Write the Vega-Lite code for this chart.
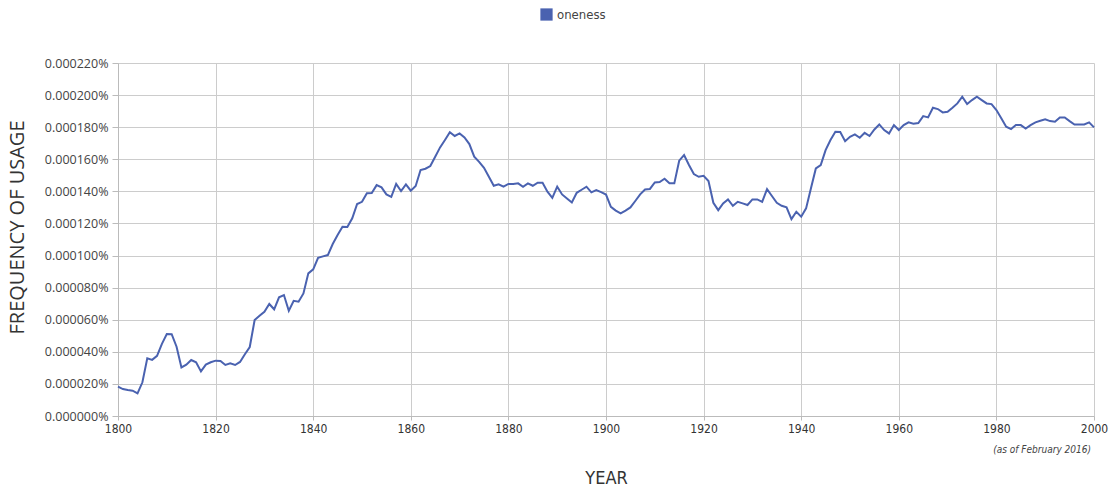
{
  "$schema": "https://vega.github.io/schema/vega-lite/v6.json",
  "width": 976,
  "height": 353,
  "autosize": {"type": "none"},
  "padding": {"left": 118, "top": 63, "right": 22, "bottom": 73},
  "background": "white",
  "config": {
    "view": {"stroke": null},
    "font": "Open Sans"
  },
  "data": {
    "values": [
      {"year": 1800, "freq": 0.0000183, "word": "oneness"},
      {"year": 1801, "freq": 0.0000168, "word": "oneness"},
      {"year": 1802, "freq": 0.0000162, "word": "oneness"},
      {"year": 1803, "freq": 0.0000158, "word": "oneness"},
      {"year": 1804, "freq": 0.0000141, "word": "oneness"},
      {"year": 1805, "freq": 0.0000210, "word": "oneness"},
      {"year": 1806, "freq": 0.0000360, "word": "oneness"},
      {"year": 1807, "freq": 0.0000350, "word": "oneness"},
      {"year": 1808, "freq": 0.0000375, "word": "oneness"},
      {"year": 1809, "freq": 0.0000450, "word": "oneness"},
      {"year": 1810, "freq": 0.0000511, "word": "oneness"},
      {"year": 1811, "freq": 0.0000510, "word": "oneness"},
      {"year": 1812, "freq": 0.0000432, "word": "oneness"},
      {"year": 1813, "freq": 0.0000303, "word": "oneness"},
      {"year": 1814, "freq": 0.0000320, "word": "oneness"},
      {"year": 1815, "freq": 0.0000349, "word": "oneness"},
      {"year": 1816, "freq": 0.0000335, "word": "oneness"},
      {"year": 1817, "freq": 0.0000278, "word": "oneness"},
      {"year": 1818, "freq": 0.0000320, "word": "oneness"},
      {"year": 1819, "freq": 0.0000335, "word": "oneness"},
      {"year": 1820, "freq": 0.0000345, "word": "oneness"},
      {"year": 1821, "freq": 0.0000343, "word": "oneness"},
      {"year": 1822, "freq": 0.0000318, "word": "oneness"},
      {"year": 1823, "freq": 0.0000328, "word": "oneness"},
      {"year": 1824, "freq": 0.0000318, "word": "oneness"},
      {"year": 1825, "freq": 0.0000337, "word": "oneness"},
      {"year": 1826, "freq": 0.0000385, "word": "oneness"},
      {"year": 1827, "freq": 0.0000430, "word": "oneness"},
      {"year": 1828, "freq": 0.0000598, "word": "oneness"},
      {"year": 1829, "freq": 0.0000625, "word": "oneness"},
      {"year": 1830, "freq": 0.0000650, "word": "oneness"},
      {"year": 1831, "freq": 0.0000698, "word": "oneness"},
      {"year": 1832, "freq": 0.0000665, "word": "oneness"},
      {"year": 1833, "freq": 0.0000740, "word": "oneness"},
      {"year": 1834, "freq": 0.0000754, "word": "oneness"},
      {"year": 1835, "freq": 0.0000656, "word": "oneness"},
      {"year": 1836, "freq": 0.0000718, "word": "oneness"},
      {"year": 1837, "freq": 0.0000712, "word": "oneness"},
      {"year": 1838, "freq": 0.0000764, "word": "oneness"},
      {"year": 1839, "freq": 0.0000889, "word": "oneness"},
      {"year": 1840, "freq": 0.0000914, "word": "oneness"},
      {"year": 1841, "freq": 0.0000986, "word": "oneness"},
      {"year": 1842, "freq": 0.0000995, "word": "oneness"},
      {"year": 1843, "freq": 0.0001003, "word": "oneness"},
      {"year": 1844, "freq": 0.0001072, "word": "oneness"},
      {"year": 1845, "freq": 0.0001128, "word": "oneness"},
      {"year": 1846, "freq": 0.0001180, "word": "oneness"},
      {"year": 1847, "freq": 0.0001178, "word": "oneness"},
      {"year": 1848, "freq": 0.0001232, "word": "oneness"},
      {"year": 1849, "freq": 0.0001321, "word": "oneness"},
      {"year": 1850, "freq": 0.0001335, "word": "oneness"},
      {"year": 1851, "freq": 0.0001388, "word": "oneness"},
      {"year": 1852, "freq": 0.0001389, "word": "oneness"},
      {"year": 1853, "freq": 0.0001439, "word": "oneness"},
      {"year": 1854, "freq": 0.0001425, "word": "oneness"},
      {"year": 1855, "freq": 0.0001381, "word": "oneness"},
      {"year": 1856, "freq": 0.0001366, "word": "oneness"},
      {"year": 1857, "freq": 0.0001446, "word": "oneness"},
      {"year": 1858, "freq": 0.0001402, "word": "oneness"},
      {"year": 1859, "freq": 0.0001444, "word": "oneness"},
      {"year": 1860, "freq": 0.0001404, "word": "oneness"},
      {"year": 1861, "freq": 0.0001433, "word": "oneness"},
      {"year": 1862, "freq": 0.0001533, "word": "oneness"},
      {"year": 1863, "freq": 0.0001541, "word": "oneness"},
      {"year": 1864, "freq": 0.0001558, "word": "oneness"},
      {"year": 1865, "freq": 0.0001616, "word": "oneness"},
      {"year": 1866, "freq": 0.0001674, "word": "oneness"},
      {"year": 1867, "freq": 0.0001720, "word": "oneness"},
      {"year": 1868, "freq": 0.0001768, "word": "oneness"},
      {"year": 1869, "freq": 0.0001745, "word": "oneness"},
      {"year": 1870, "freq": 0.0001761, "word": "oneness"},
      {"year": 1871, "freq": 0.0001736, "word": "oneness"},
      {"year": 1872, "freq": 0.0001695, "word": "oneness"},
      {"year": 1873, "freq": 0.0001616, "word": "oneness"},
      {"year": 1874, "freq": 0.0001584, "word": "oneness"},
      {"year": 1875, "freq": 0.0001547, "word": "oneness"},
      {"year": 1876, "freq": 0.0001491, "word": "oneness"},
      {"year": 1877, "freq": 0.0001435, "word": "oneness"},
      {"year": 1878, "freq": 0.0001444, "word": "oneness"},
      {"year": 1879, "freq": 0.0001429, "word": "oneness"},
      {"year": 1880, "freq": 0.0001446, "word": "oneness"},
      {"year": 1881, "freq": 0.0001446, "word": "oneness"},
      {"year": 1882, "freq": 0.0001450, "word": "oneness"},
      {"year": 1883, "freq": 0.0001429, "word": "oneness"},
      {"year": 1884, "freq": 0.0001450, "word": "oneness"},
      {"year": 1885, "freq": 0.0001435, "word": "oneness"},
      {"year": 1886, "freq": 0.0001454, "word": "oneness"},
      {"year": 1887, "freq": 0.0001454, "word": "oneness"},
      {"year": 1888, "freq": 0.0001398, "word": "oneness"},
      {"year": 1889, "freq": 0.0001360, "word": "oneness"},
      {"year": 1890, "freq": 0.0001429, "word": "oneness"},
      {"year": 1891, "freq": 0.0001381, "word": "oneness"},
      {"year": 1892, "freq": 0.0001356, "word": "oneness"},
      {"year": 1893, "freq": 0.0001331, "word": "oneness"},
      {"year": 1894, "freq": 0.0001391, "word": "oneness"},
      {"year": 1895, "freq": 0.0001410, "word": "oneness"},
      {"year": 1896, "freq": 0.0001429, "word": "oneness"},
      {"year": 1897, "freq": 0.0001394, "word": "oneness"},
      {"year": 1898, "freq": 0.0001408, "word": "oneness"},
      {"year": 1899, "freq": 0.0001395, "word": "oneness"},
      {"year": 1900, "freq": 0.0001380, "word": "oneness"},
      {"year": 1901, "freq": 0.0001304, "word": "oneness"},
      {"year": 1902, "freq": 0.0001280, "word": "oneness"},
      {"year": 1903, "freq": 0.0001263, "word": "oneness"},
      {"year": 1904, "freq": 0.0001280, "word": "oneness"},
      {"year": 1905, "freq": 0.0001300, "word": "oneness"},
      {"year": 1906, "freq": 0.0001340, "word": "oneness"},
      {"year": 1907, "freq": 0.0001381, "word": "oneness"},
      {"year": 1908, "freq": 0.0001412, "word": "oneness"},
      {"year": 1909, "freq": 0.0001415, "word": "oneness"},
      {"year": 1910, "freq": 0.0001456, "word": "oneness"},
      {"year": 1911, "freq": 0.0001458, "word": "oneness"},
      {"year": 1912, "freq": 0.0001479, "word": "oneness"},
      {"year": 1913, "freq": 0.0001450, "word": "oneness"},
      {"year": 1914, "freq": 0.0001450, "word": "oneness"},
      {"year": 1915, "freq": 0.0001591, "word": "oneness"},
      {"year": 1916, "freq": 0.0001626, "word": "oneness"},
      {"year": 1917, "freq": 0.0001564, "word": "oneness"},
      {"year": 1918, "freq": 0.0001508, "word": "oneness"},
      {"year": 1919, "freq": 0.0001491, "word": "oneness"},
      {"year": 1920, "freq": 0.0001497, "word": "oneness"},
      {"year": 1921, "freq": 0.0001464, "word": "oneness"},
      {"year": 1922, "freq": 0.0001329, "word": "oneness"},
      {"year": 1923, "freq": 0.0001283, "word": "oneness"},
      {"year": 1924, "freq": 0.0001325, "word": "oneness"},
      {"year": 1925, "freq": 0.0001350, "word": "oneness"},
      {"year": 1926, "freq": 0.0001310, "word": "oneness"},
      {"year": 1927, "freq": 0.0001335, "word": "oneness"},
      {"year": 1928, "freq": 0.0001325, "word": "oneness"},
      {"year": 1929, "freq": 0.0001315, "word": "oneness"},
      {"year": 1930, "freq": 0.0001350, "word": "oneness"},
      {"year": 1931, "freq": 0.0001350, "word": "oneness"},
      {"year": 1932, "freq": 0.0001335, "word": "oneness"},
      {"year": 1933, "freq": 0.0001414, "word": "oneness"},
      {"year": 1934, "freq": 0.0001371, "word": "oneness"},
      {"year": 1935, "freq": 0.0001329, "word": "oneness"},
      {"year": 1936, "freq": 0.0001310, "word": "oneness"},
      {"year": 1937, "freq": 0.0001300, "word": "oneness"},
      {"year": 1938, "freq": 0.0001227, "word": "oneness"},
      {"year": 1939, "freq": 0.0001273, "word": "oneness"},
      {"year": 1940, "freq": 0.0001242, "word": "oneness"},
      {"year": 1941, "freq": 0.0001294, "word": "oneness"},
      {"year": 1942, "freq": 0.0001420, "word": "oneness"},
      {"year": 1943, "freq": 0.0001543, "word": "oneness"},
      {"year": 1944, "freq": 0.0001564, "word": "oneness"},
      {"year": 1945, "freq": 0.0001657, "word": "oneness"},
      {"year": 1946, "freq": 0.0001720, "word": "oneness"},
      {"year": 1947, "freq": 0.0001771, "word": "oneness"},
      {"year": 1948, "freq": 0.0001770, "word": "oneness"},
      {"year": 1949, "freq": 0.0001713, "word": "oneness"},
      {"year": 1950, "freq": 0.0001740, "word": "oneness"},
      {"year": 1951, "freq": 0.0001755, "word": "oneness"},
      {"year": 1952, "freq": 0.0001734, "word": "oneness"},
      {"year": 1953, "freq": 0.0001765, "word": "oneness"},
      {"year": 1954, "freq": 0.0001745, "word": "oneness"},
      {"year": 1955, "freq": 0.0001786, "word": "oneness"},
      {"year": 1956, "freq": 0.0001817, "word": "oneness"},
      {"year": 1957, "freq": 0.0001782, "word": "oneness"},
      {"year": 1958, "freq": 0.0001761, "word": "oneness"},
      {"year": 1959, "freq": 0.0001813, "word": "oneness"},
      {"year": 1960, "freq": 0.0001782, "word": "oneness"},
      {"year": 1961, "freq": 0.0001813, "word": "oneness"},
      {"year": 1962, "freq": 0.0001830, "word": "oneness"},
      {"year": 1963, "freq": 0.0001822, "word": "oneness"},
      {"year": 1964, "freq": 0.0001826, "word": "oneness"},
      {"year": 1965, "freq": 0.0001869, "word": "oneness"},
      {"year": 1966, "freq": 0.0001861, "word": "oneness"},
      {"year": 1967, "freq": 0.0001921, "word": "oneness"},
      {"year": 1968, "freq": 0.0001913, "word": "oneness"},
      {"year": 1969, "freq": 0.0001892, "word": "oneness"},
      {"year": 1970, "freq": 0.0001896, "word": "oneness"},
      {"year": 1971, "freq": 0.0001921, "word": "oneness"},
      {"year": 1972, "freq": 0.0001948, "word": "oneness"},
      {"year": 1973, "freq": 0.0001990, "word": "oneness"},
      {"year": 1974, "freq": 0.0001944, "word": "oneness"},
      {"year": 1975, "freq": 0.0001969, "word": "oneness"},
      {"year": 1976, "freq": 0.0001990, "word": "oneness"},
      {"year": 1977, "freq": 0.0001969, "word": "oneness"},
      {"year": 1978, "freq": 0.0001948, "word": "oneness"},
      {"year": 1979, "freq": 0.0001944, "word": "oneness"},
      {"year": 1980, "freq": 0.0001907, "word": "oneness"},
      {"year": 1981, "freq": 0.0001855, "word": "oneness"},
      {"year": 1982, "freq": 0.0001803, "word": "oneness"},
      {"year": 1983, "freq": 0.0001788, "word": "oneness"},
      {"year": 1984, "freq": 0.0001813, "word": "oneness"},
      {"year": 1985, "freq": 0.0001813, "word": "oneness"},
      {"year": 1986, "freq": 0.0001792, "word": "oneness"},
      {"year": 1987, "freq": 0.0001813, "word": "oneness"},
      {"year": 1988, "freq": 0.0001830, "word": "oneness"},
      {"year": 1989, "freq": 0.0001840, "word": "oneness"},
      {"year": 1990, "freq": 0.0001849, "word": "oneness"},
      {"year": 1991, "freq": 0.0001838, "word": "oneness"},
      {"year": 1992, "freq": 0.0001834, "word": "oneness"},
      {"year": 1993, "freq": 0.0001861, "word": "oneness"},
      {"year": 1994, "freq": 0.0001861, "word": "oneness"},
      {"year": 1995, "freq": 0.0001838, "word": "oneness"},
      {"year": 1996, "freq": 0.0001817, "word": "oneness"},
      {"year": 1997, "freq": 0.0001817, "word": "oneness"},
      {"year": 1998, "freq": 0.0001817, "word": "oneness"},
      {"year": 1999, "freq": 0.0001830, "word": "oneness"},
      {"year": 2000, "freq": 0.0001799, "word": "oneness"}
    ]
  },
  "layer": [
    {
      "mark": {"type": "line", "strokeWidth": 2, "interpolate": "linear"},
      "encoding": {
        "x": {
          "field": "year",
          "type": "quantitative",
          "scale": {"domain": [1800, 2000], "nice": false, "zero": false},
          "axis": {
            "values": [1800, 1820, 1840, 1860, 1880, 1900, 1920, 1940, 1960, 1980, 2000],
            "tickCount": 11,
            "format": "d",
            "title": "YEAR",
            "titleFont": "Liberation Sans Narrow, DejaVu Sans Condensed, Open Sans",
            "titleFontSize": 18,
            "titleFontWeight": "normal",
            "titleColor": "#333333",
            "titlePadding": 35,
            "labelFont": "Liberation Sans Narrow, DejaVu Sans Condensed, Open Sans",
            "labelFontSize": 12,
            "labelColor": "#333333",
            "labelPadding": 3,
            "tickSize": 4,
            "tickColor": "#bbbbbb",
            "domainColor": "#bbbbbb",
            "gridColor": "#cccccc",
            "gridWidth": 1,
            "labelFlush": false,
            "labelOverlap": false
          }
        },
        "y": {
          "field": "freq",
          "type": "quantitative",
          "scale": {"domain": [0, 0.00022], "nice": false},
          "axis": {
            "values": [0, 0.00002, 0.00004, 0.00006, 0.00008, 0.0001, 0.00012, 0.00014, 0.00016, 0.00018, 0.0002, 0.00022],
            "tickCount": 12,
            "labelExpr": "format(datum.value, '.6f') + '%'",
            "labelOverlap": false,
            "labelFlush": false,
            "title": "FREQUENCY OF USAGE",
            "titleFont": "Open Sans",
            "titleFontSize": 20,
            "titleFontWeight": "normal",
            "titleColor": "#333333",
            "titlePadding": 17,
            "titleY": 164,
            "labelFont": "Open Sans",
            "labelFontSize": 12.5,
            "labelColor": "#444444",
            "labelPadding": 4,
            "tickSize": 6,
            "tickColor": "#bbbbbb",
            "domainColor": "#bbbbbb",
            "gridColor": "#cccccc",
            "gridWidth": 1
          }
        },
        "color": {
          "field": "word",
          "type": "nominal",
          "scale": {"range": ["#4a62b0"]},
          "legend": {
            "title": null,
            "orient": "none",
            "legendX": 422,
            "legendY": -55,
            "symbolType": "square",
            "symbolSize": 150,
            "symbolStrokeWidth": 0,
            "symbolFillColor": "#4a62b0",
            "labelFont": "Liberation Sans Narrow, DejaVu Sans Condensed, Open Sans",
            "labelFontSize": 13,
            "labelColor": "#444444"
          }
        }
      }
    },
    {
      "data": {"values": [{"year": 2000, "note": "(as of February 2016)"}]},
      "mark": {
        "type": "text",
        "align": "right",
        "baseline": "middle",
        "dy": 34,
        "dx": -3,
        "fontStyle": "italic",
        "fontSize": 10,
        "font": "Liberation Sans Narrow, DejaVu Sans Condensed, Open Sans",
        "color": "#444444"
      },
      "encoding": {
        "x": {"field": "year", "type": "quantitative"},
        "y": {"datum": 0},
        "text": {"field": "note"}
      }
    }
  ]
}
